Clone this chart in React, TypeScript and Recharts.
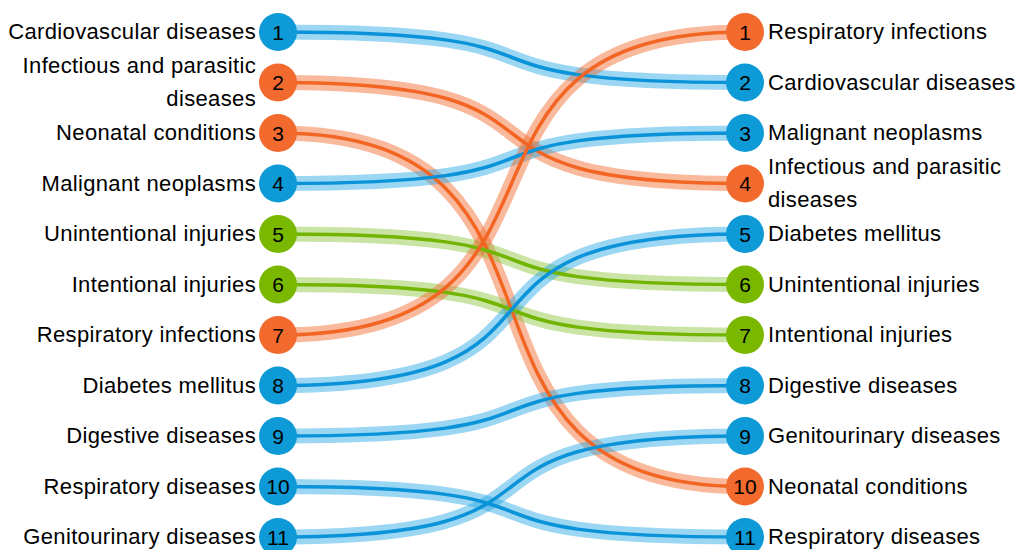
import React from 'react';
import { ComposedChart, Line, Scatter, XAxis, YAxis } from 'recharts';

// Causes, in their rank order in the first column
const causes = [
  'Cardiovascular diseases',
  'Infectious and parasitic\ndiseases',
  'Neonatal conditions',
  'Malignant neoplasms',
  'Unintentional injuries',
  'Intentional injuries',
  'Respiratory infections',
  'Diabetes mellitus',
  'Digestive diseases',
  'Respiratory diseases',
  'Genitourinary diseases',
];
const rankLeft = [1, 2, 3, 4, 5, 6, 7, 8, 9, 10, 11];
const rankRight = [2, 4, 10, 3, 6, 7, 1, 5, 8, 11, 9];
const groups = ['ncd', 'comm', 'comm', 'ncd', 'inj', 'inj', 'comm', 'ncd', 'ncd', 'ncd', 'ncd'];

const lineColor: Record<string, string> = { ncd: '#0a93d8', comm: '#f26522', inj: '#72b500' };
const bandColor: Record<string, string> = { ncd: '#2aa8e6', comm: '#f26a2e', inj: '#8cc63f' };
const dotColor: Record<string, string> = { ncd: '#0e9ad7', comm: '#f26a2e', inj: '#7ab800' };

const FONT = '"Liberation Sans", Arial, sans-serif';

// horizontal-tangent S curve, control points pulled far in so the bend sits mid-way
const sCurve = (context: any) => {
  let x0 = 0;
  let y0 = 0;
  let n = 0;
  const K = 0.72;
  return {
    areaStart() {},
    areaEnd() {},
    lineStart() {
      n = 0;
    },
    lineEnd() {},
    point(x: number, y: number) {
      x = +x;
      y = +y;
      if (n === 0) context.moveTo(x, y);
      else {
        const dx = x - x0;
        context.bezierCurveTo(x0 + dx * K, y0, x - dx * K, y, x, y);
      }
      x0 = x;
      y0 = y;
      n++;
    },
  };
};

const series = causes.map((name, i) => ({
  name,
  group: groups[i],
  data: [
    { x: 0, y: rankLeft[i] },
    { x: 1, y: rankRight[i] },
  ],
}));

const points = [
  ...causes.map((name, i) => ({ x: 0, y: rankLeft[i], name, group: groups[i], side: 'left' })),
  ...causes.map((name, i) => ({ x: 1, y: rankRight[i], name, group: groups[i], side: 'right' })),
];

const RankDot = (props: any) => {
  const { cx, cy, payload } = props;
  const lines = String(payload.name).split('\n');
  const left = payload.side === 'left';
  const tx = left ? cx - 22 : cx + 23;
  const lh = 33;
  return (
    <g>
      <circle cx={cx} cy={cy} r={19} fill={dotColor[payload.group]} />
      <text x={cx} y={cy} textAnchor="middle" dominantBaseline="central" fontSize={21} fontFamily={FONT} fill="#000">
        {payload.y}
      </text>
      <text
        x={tx}
        y={cy}
        textAnchor={left ? 'end' : 'start'}
        fontSize={22}
        letterSpacing={0.35}
        fontFamily={FONT}
        fill="#000"
      >
        {lines.map((l, k) => (
          <tspan key={k} x={tx} y={cy - 0.5 + (k - (lines.length - 1) / 2) * lh} dominantBaseline="central">
            {l}
          </tspan>
        ))}
      </text>
    </g>
  );
};

export default function App() {
  return (
    <div style={{ position: 'absolute', left: 0, top: 0, background: '#fff' }}>
      <ComposedChart width={1018} height={560} margin={{ top: 32, right: 273, bottom: 23, left: 278 }}>
        <XAxis type="number" dataKey="x" domain={[0, 1]} hide />
        <YAxis type="number" dataKey="y" domain={[1, 11]} reversed hide />
        {series.map((s) => (
          <Line
            key={'band-' + s.name}
            data={s.data}
            dataKey="y"
            type={sCurve as any}
            stroke={bandColor[s.group]}
            strokeOpacity={0.47}
            strokeWidth={15}
            dot={false}
            activeDot={false}
            isAnimationActive={false}
          />
        ))}
        {series.map((s) => (
          <Line
            key={'line-' + s.name}
            data={s.data}
            dataKey="y"
            type={sCurve as any}
            stroke={lineColor[s.group]}
            strokeWidth={3.5}
            dot={false}
            activeDot={false}
            isAnimationActive={false}
          />
        ))}
        <Scatter data={points} dataKey="y" shape={RankDot} isAnimationActive={false} />
      </ComposedChart>
    </div>
  );
}
